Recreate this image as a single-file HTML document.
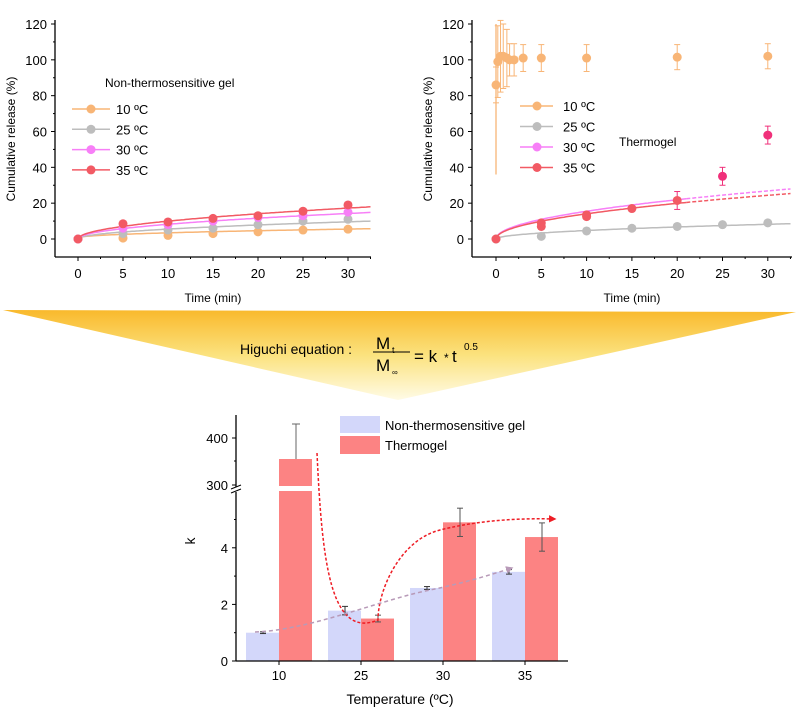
<!DOCTYPE html>
<html><head><meta charset="utf-8"><style>
body{margin:0;background:#fff;}
svg{display:block;font-family:"Liberation Sans",Arial,sans-serif;}
</style></head><body>
<svg id="s" width="799" height="711" viewBox="0 0 799 711" xmlns="http://www.w3.org/2000/svg">
<defs>
<linearGradient id="g" x1="0" y1="0" x2="0" y2="1">
<stop offset="0" stop-color="#f9b92c"/><stop offset="0.5" stop-color="#fbe27e"/><stop offset="1" stop-color="#fffbe6"/>
</linearGradient>
<marker id="ar" viewBox="0 0 10 10" refX="8" refY="5" markerWidth="5" markerHeight="5" orient="auto"><path d="M0,0L10,5L0,10z" fill="#ee1c24"/></marker>
<marker id="ap" viewBox="0 0 10 10" refX="8" refY="5" markerWidth="5" markerHeight="5" orient="auto"><path d="M0,0L10,5L0,10z" fill="#b89ab8"/></marker>
</defs>
<polygon points="3,310 796,312 398,400" fill="url(#g)"/>
<text x="240" y="354" font-size="14">Higuchi equation :</text>
<text x="376" y="349" font-size="17">M</text><text x="392" y="353" font-size="9">t</text>
<line x1="373" y1="352" x2="410" y2="352" stroke="#000" stroke-width="1"/>
<text x="376" y="371" font-size="17">M</text><text x="392" y="375" font-size="8">∞</text>
<text x="414" y="362" font-size="17">= k</text><text x="444" y="362" font-size="12">*</text><text x="452" y="362" font-size="17">t</text>
<text x="464" y="350" font-size="10">0.5</text>
<g id="L"></g>
</svg>
<script>
const S=document.getElementById('L');
let h='';
function ln(a,b,c,d,st,w,ex){h+=`<line x1="${a}" y1="${b}" x2="${c}" y2="${d}" stroke="${st}" stroke-width="${w||1}" ${ex||''}/>`;}
function tx(x,y,t,fs,an,ex){h+=`<text x="${x}" y="${y}" font-size="${fs}" text-anchor="${an||'start'}" ${ex||''}>${t}</text>`;}
function dot(x,y,c,r){h+=`<circle cx="${x}" cy="${y}" r="${r||4.5}" fill="${c}"/>`;}
const C={o:'#f8b576',g:'#bdbdbd',m:'#f77ff7',r:'#f25a64',p:'#f0307a'};
function panel(ax,x0,x5,xr,lab){
 const Y=v=>239-v*215/120, X=t=>x0+t*x5/5;
 ln(ax,20,ax,257,'#000',1.3); ln(ax,257,xr,257,'#000',1.3);
 for(let v=0;v<=120;v+=20){ln(ax-4,Y(v),ax,Y(v),'#000');tx(ax-8,Y(v)+5,v,13,'end');}
 for(let v=10;v<120;v+=20){ln(ax-2,Y(v),ax,Y(v),'#000');}
 for(let t=0;t<=30;t+=5){ln(X(t),257,X(t),261,'#000');tx(X(t),278,t,13,'middle');ln(X(t+2.5),257,X(t+2.5),259,'#000');}
 tx(ax-40,139,'Cumulative release (%)',12,'middle',`transform="rotate(-90 ${ax-40} 139)"`);
 tx((ax+xr)/2,302,'Time (min)',12,'middle');
 return [X,Y];
}
function curve(X,Y,k,a,t1,t2,c,dash){let p='';for(let t=t1;t<=t2+0.001;t+=0.25){p+=(p?'L':'M')+X(t).toFixed(1)+','+Y(a+k*Math.sqrt(t)).toFixed(1);}h+=`<path d="${p}" fill="none" stroke="${c}" stroke-width="1.5" ${dash?'stroke-dasharray="4,2"':''}/>`;}
// left
let [X,Y]=panel(55,78,45,371);
curve(X,Y,0.9,0.6,0,32.5,C.o);curve(X,Y,1.75,0,0,32.5,C.g);curve(X,Y,2.6,0,0,32.5,C.m);curve(X,Y,3.15,0,0,32.5,C.r);
const T=[0,5,10,15,20,25,30];
[[C.o,[0,0.5,2,3,4,5,5.5]],[C.g,[0,3,5,6,8,10,11]],[C.m,[0,6,8,10,12,13,15]],[C.r,[0,8.5,9.5,11.5,13,15.5,19]]].forEach(([c,d])=>d.forEach((v,i)=>dot(X(T[i]),Y(v),c)));
tx(105,87,'Non-thermosensitive gel',12);
[[C.o,'10 ºC'],[C.g,'25 ºC'],[C.m,'30 ºC'],[C.r,'35 ºC']].forEach(([c,t],i)=>{const y=109+i*20.3;ln(72,y,110,y,c,1.5);dot(91,y,c);tx(116,y+5,t,13);});
// right
[X,Y]=panel(472,496,45.3,792);
curve(X,Y,1.5,0,0,32.5,C.g);
curve(X,Y,4.9,0,0,21,C.m);curve(X,Y,4.9,0,21,32.5,C.m,1);
curve(X,Y,4.45,0,0,21,C.r);curve(X,Y,4.45,0,21,32.5,C.r,1);
ln(X(0),Y(36),X(0),Y(120),C.o,1.3);
[[0,86,10],[0.2,99,20],[0.5,102,20],[0.8,102,18],[1.2,101,16],[1.5,100,9],[2,100,9],[3,101,7.5],[5,101,7.5],[10,101,7.5],[20,101.5,7],[30,102,7]].forEach(([t,v,e])=>{ln(X(t),Y(v-e),X(t),Y(v+e),C.o);ln(X(t)-3,Y(v+e),X(t)+3,Y(v+e),C.o);ln(X(t)-3,Y(v-e),X(t)+3,Y(v-e),C.o);dot(X(t),Y(v),C.o);});
[0,1.5,4.5,6,7,8,9].forEach((v,i)=>dot(X(T[i]),Y(v),C.g));
[[0,0],[5,7],[5,9],[10,12.5],[10,13.5],[15,17],[20,21.5],[25,35],[30,58]].forEach(([t,v])=>{if(t>=20){ln(X(t),Y(v-5),X(t),Y(v+5),C.p);ln(X(t)-3,Y(v+5),X(t)+3,Y(v+5),C.p);ln(X(t)-3,Y(v-5),X(t)+3,Y(v-5),C.p);}dot(X(t),Y(v),t>=25?C.p:C.r);});
tx(619,146,'Thermogel',12);
[[C.o,'10 ºC'],[C.g,'25 ºC'],[C.m,'30 ºC'],[C.r,'35 ºC']].forEach(([c,t],i)=>{const y=106+i*20.5;ln(520,y,553,y,c,1.5);dot(537,y,c);tx(563,y+5,t,13);});
// bottom
const K=v=>661-v*28.3, U=v=>485-(v-300)*0.47;
const blue='#d3d7fa',red='#fc8383';
const tk=[279,361,443,525],bv=[1,1.78,2.58,3.15],be=[0.03,0.15,0.05,0.08],rv=[0,1.5,4.9,4.38],re=[0,0.12,0.5,0.5];
tk.forEach((x,i)=>{h+=`<rect x="${x-33}" y="${K(bv[i])}" width="33" height="${661-K(bv[i])}" fill="${blue}"/>`;
 if(i==0){h+=`<rect x="${x}" y="491" width="33" height="170" fill="${red}"/><rect x="${x}" y="459" width="33" height="27" fill="${red}"/>`;ln(x+17,424,x+17,459,'#666');ln(x+13,424,x+21,424,'#666');}
 else{h+=`<rect x="${x}" y="${K(rv[i])}" width="33" height="${661-K(rv[i])}" fill="${red}"/>`;const cx=x+17;ln(cx,K(rv[i]-re[i]),cx,K(rv[i]+re[i]),'#555');ln(cx-3,K(rv[i]+re[i]),cx+3,K(rv[i]+re[i]),'#555');ln(cx-3,K(rv[i]-re[i]),cx+3,K(rv[i]-re[i]),'#555');}
 const cx=x-16;ln(cx,K(bv[i]-be[i]),cx,K(bv[i]+be[i]),'#333');ln(cx-3,K(bv[i]+be[i]),cx+3,K(bv[i]+be[i]),'#333');ln(cx-3,K(bv[i]-be[i]),cx+3,K(bv[i]-be[i]),'#333');
 ln(x,661,x,665,'#000');tx(x,680,[10,25,30,35][i],13,'middle');});
ln(236,415,236,487,'#000',1.3);ln(236,492,236,661,'#000',1.3);ln(236,661,568,661,'#000',1.3);
ln(231,489,241,485,'#000');ln(231,493,241,489,'#000');
[[0,K(0)],[2,K(2)],[4,K(4)]].forEach(([v,y])=>{ln(232,y,236,y,'#000');tx(228,y+5,v,13,'end');});
[1,3,5].forEach(v=>ln(234,K(v),236,K(v),'#000'));
[[300,485],[400,438]].forEach(([v,y])=>{ln(232,y,236,y,'#000');tx(228,y+5,v,13,'end');});
ln(234,461,236,461,'#000');
tx(195,541,'k',14,'middle',`transform="rotate(-90 195 541)"`);
tx(400,704,'Temperature (ºC)',14,'middle');
h+=`<rect x="340" y="416" width="40" height="17" fill="${blue}"/><rect x="340" y="436" width="40" height="18" fill="${red}"/>`;
tx(385,430,'Non-thermosensitive gel',13);tx(385,450,'Thermogel',13);
h+=`<path d="M317,453 C322,560 330,640 378,620 C378,590 400,540 440,530 C480,520 520,518 555,519" fill="none" stroke="#ee1c24" stroke-width="1.5" stroke-dasharray="3,2" marker-end="url(#ar)"/>`;
h+=`<path d="M255,632 C310,630 380,600 430,590 C460,584 490,575 512,568" fill="none" stroke="#b89ab8" stroke-width="1.5" stroke-dasharray="4,3" marker-end="url(#ap)"/>`;
S.innerHTML=h;
</script>
</body></html>
